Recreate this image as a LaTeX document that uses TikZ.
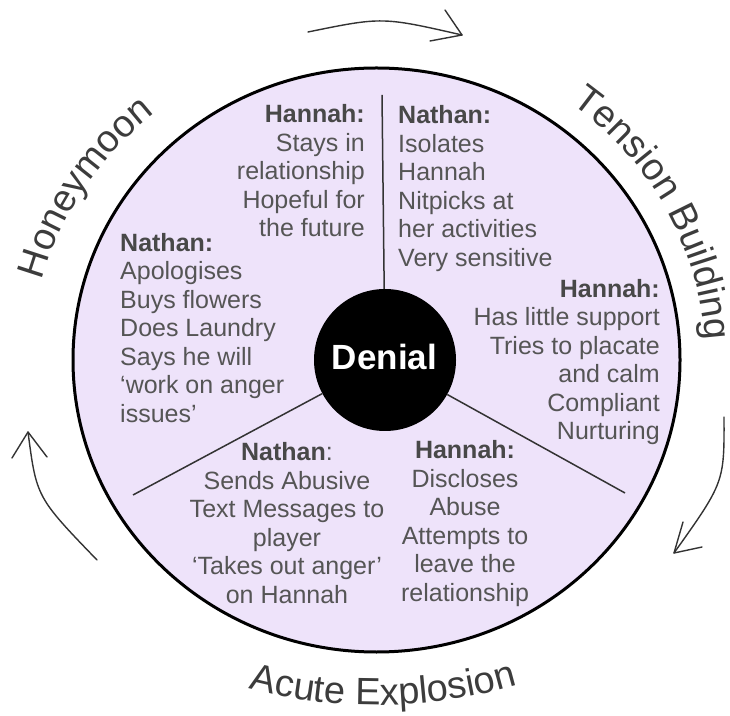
\documentclass[tikz,border=0pt]{standalone}
\usepackage{fontspec}
\setmainfont{Liberation Sans}
\usetikzlibrary{decorations.text}
\definecolor{fillc}{RGB}{238,227,250}
\definecolor{bodyc}{RGB}{85,85,85}
\definecolor{headc}{RGB}{72,72,72}
\definecolor{lblc}{RGB}{60,60,60}
\definecolor{arrc}{RGB}{51,51,51}
\newcommand\bodyfont{\fontsize{25}{28.5}\selectfont}
\newcommand\lblfont{\fontsize{38}{38}\selectfont}
\newcommand\hd[1]{\textcolor{headc}{\textbf{#1}}}
\begin{document}
\begin{tikzpicture}[x=1pt,y=1pt,
  body/.style={font=\bodyfont, text=bodyc, inner sep=0pt},
  divider/.style={draw=arrc, line width=1.5pt},
  cyc/.style={draw=arrc, line width=1.4pt, line cap=round, line join=round},
  arclabel/.style={decorate, decoration={text along path, text align=center, text color=lblc, text={|\lblfont|#1}}}
]
\useasboundingbox (0,0) rectangle (730,715);
% wheel
\draw[fill=fillc, line width=3pt] (376.5,355) ellipse [x radius=303.5, y radius=292];
% centre
\node[circle, fill=black, minimum size=142pt, inner sep=0pt] (denial) at (385,355) {};
\coordinate (topend) at (382,620);
\coordinate (leftend) at (133,220);
\coordinate (rightend) at (625,222);
\draw[divider] (denial) -- (topend);
\draw[divider] (denial) -- (leftend);
\draw[divider] (denial) -- (rightend);
\node[font=\fontsize{35}{35}\selectfont\bfseries, text=white, anchor=base, inner sep=0pt] (denialtxt) at (384.5,345) {Denial};
% text blocks (anchored at the baseline of their last line)
\node[body, align=right, anchor=base east] (hw) at (365,478) {\hd{Hannah:}\\Stays in\\relationship\\Hopeful for\\the future};
\node[body, align=left, anchor=base west] (nt) at (398,448.5) {\hd{Nathan:}\\Isolates\\Hannah\\Nitpicks at\\her activities\\Very sensitive};
\node[body, align=right, anchor=base east] (ht) at (660,275) {\hd{Hannah:}\\Has little support\\Tries to placate\\and calm\\Compliant\\Nurturing};
\node[body, align=left, anchor=base west] (nh) at (120,292.5) {\hd{Nathan:}\\Apologises\\Buys flowers\\Does Laundry\\Says he will\\‘work on anger\\issues’};
\node[body, align=center, anchor=base] (ne) at (287,112) {\hd{Nathan}:\\Sends Abusive\\Text Messages to\\player\\‘Takes out anger’\\on Hannah};
\node[body, align=center, anchor=base] (he) at (465,114) {\hd{Hannah:}\\Discloses\\Abuse\\Attempts to\\leave the\\relationship};
% curved labels
\path[arclabel=Honeymoon] ([shift={(376.5,355)}]175:345 and 322) arc[start angle=175, end angle=121, x radius=345, y radius=322];
\path[arclabel=Tension Building] ([shift={(376.5,355)}]63:329 and 318) arc[start angle=63, end angle=-6, x radius=329, y radius=318];
\path[arclabel=Acute Explosion] ([shift={(376.5,355)}]241:420 and 345) arc[start angle=241, end angle=301, x radius=420, y radius=345];
% cycle arrows
\coordinate (tS) at (308,683); \coordinate (tC) at (382.3,698.2); \coordinate (tE) at (462,680);
\coordinate (tA) at (445,705); \coordinate (tB) at (430,674);
\draw[cyc] (tS) .. controls (tC) .. (tE);
\draw[cyc] (tA) -- (tE) -- (tB);
\coordinate (lS) at (97,155); \coordinate (lC) at (36.5,217.7); \coordinate (lE) at (28,283);
\coordinate (lA) at (12,257); \coordinate (lB) at (47,258);
\draw[cyc] (lS) .. controls (lC) .. (lE);
\draw[cyc] (lA) -- (lE) -- (lB);
\coordinate (rS) at (724,298); \coordinate (rC) at (724.3,232.7); \coordinate (rE) at (674,162);
\coordinate (rA) at (683,193); \coordinate (rB) at (702,168);
\draw[cyc] (rS) .. controls (rC) .. (rE);
\draw[cyc] (rA) -- (rE) -- (rB);
\end{tikzpicture}
\end{document}
